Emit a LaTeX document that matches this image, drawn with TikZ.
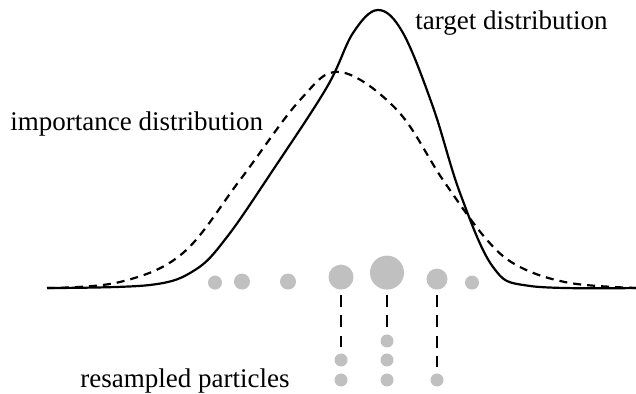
\documentclass[tikz,border=0pt]{standalone}
\usepackage{fontspec}
\setmainfont{Liberation Serif}
\usepackage{xcolor}
\definecolor{particlegray}{RGB}{192,192,192}

\begin{document}
\begin{tikzpicture}[x=0.5pt,y=-0.5pt,
  particle/.style={circle,fill=particlegray,inner sep=0pt,minimum size=#1,anchor=south},
  resampled/.style={circle,fill=particlegray,inner sep=0pt,minimum size=6.5pt},
  lbl/.style={font=\fontsize{13.5}{16}\selectfont,anchor=base west,inner sep=0pt},
  link/.style={line width=1pt,dash pattern=on 6pt off 4.25pt,shorten <=2.5pt,shorten >=3pt}]
\useasboundingbox (0,0) rectangle (636,394);
% target density (solid)
\draw[line width=1.1pt] plot[smooth,tension=0.6] coordinates {(47,288) (150,285) (195,270) (227,237) (273,170) (327,87) (353,33) (378,10) (403,33) (433,107) (460,193) (493,267) (530,286) (636,288)};
% importance density (dashed)
\draw[line width=1.1pt,dash pattern=on 4pt off 3pt] plot[smooth,tension=0.6] coordinates {(47,288) (120,282) (183,253) (240,180) (300,100) (340,72) (397,110) (443,180) (487,240) (520,267) (570,283) (636,288)};
\node[lbl] (imp) at (10,131) {importance distribution};
\node[lbl] (tgt) at (415,30) {target distribution};
\node[lbl] (res) at (80,387) {resampled particles};
% weighted particles
\node[particle=7pt] (p1) at (215,290) {};
\node[particle=8pt] (p2) at (242,290) {};
\node[particle=8pt] (p3) at (288,290) {};
\node[particle=12.5pt] (p4) at (341,290) {};
\node[particle=17pt] (p5) at (387,290) {};
\node[particle=10.5pt] (p6) at (437,290) {};
\node[particle=7pt] (p7) at (472,290) {};
% resampled particles
\node[resampled] (r11) at (341,360) {};
\node[resampled] (r12) at (341,380) {};
\node[resampled] (r21) at (387,341) {};
\node[resampled] (r22) at (387,360) {};
\node[resampled] (r23) at (387,380) {};
\node[resampled] (r31) at (437,380) {};
\draw[link] (p4.south) -- (r11.north);
\draw[link] (p5.south) -- (r21.north);
\draw[link] (p6.south) -- (r31.north);
\end{tikzpicture}
\end{document}
